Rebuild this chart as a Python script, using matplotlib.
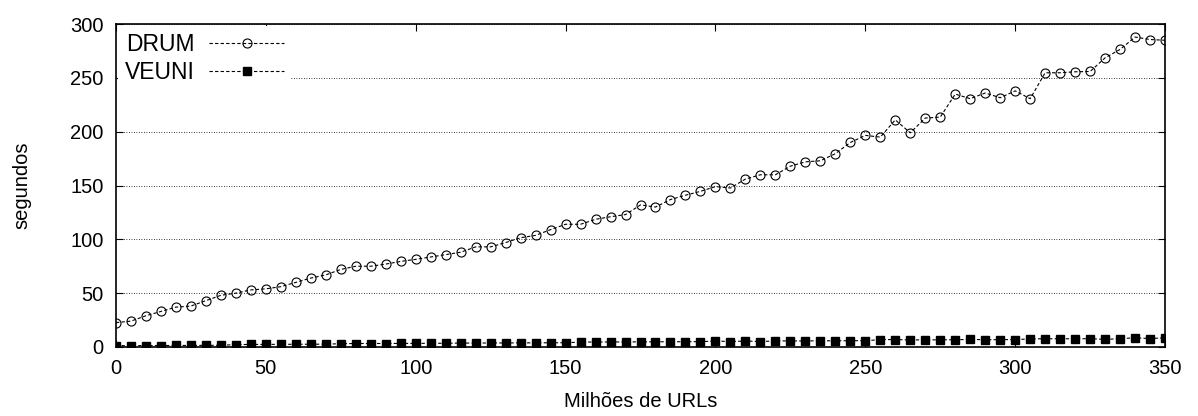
import matplotlib
matplotlib.use("Agg")
import matplotlib.pyplot as plt
import numpy as np

plt.rcParams['font.family'] = ['Liberation Sans', 'DejaVu Sans']

# milhoes de URLs (eixo x)
urls = np.arange(0, 351, 5)

# tempos (segundos)
drum = [22.6, 24, 29, 33, 37, 38, 43, 48, 50, 53,
        54, 56, 60, 64, 67, 72, 75, 75, 77, 79.5,
        81.4, 83.6, 85.8, 88, 93, 93, 97, 101.5, 103.7, 109,
        114, 114, 118.6, 121, 123, 132, 130, 137, 141, 144.6,
        149, 147.7, 156, 160, 160, 168, 172, 173, 179.6, 190,
        196.6, 195, 211, 199, 212.7, 213.6, 235, 230.7, 236, 231.6,
        238, 230.7, 254.8, 254.8, 255.7, 256, 268.7, 276.5, 288, 285.7,
        285]
veuni = [1.2, 1.2, 1.3, 1.3, 1.4, 1.4, 1.5, 1.5, 2.2, 2.3,
         2.4, 2.4, 2.5, 2.5, 2.6, 3.0, 3.2, 3.2, 3.2, 3.3,
         3.3, 3.4, 3.4, 3.6, 3.6, 3.7, 3.7, 3.8, 3.8, 3.9,
         3.9, 4.5, 4.6, 4.6, 4.7, 4.7, 4.8, 4.8, 4.9, 4.9,
         5.5, 5.0, 5.5, 5.0, 5.6, 5.6, 5.6, 5.7, 5.7, 5.8,
         5.8, 6.8, 6.9, 6.5, 6.6, 6.6, 6.7, 7.0, 6.7, 6.8,
         6.8, 7.5, 7.6, 7.6, 7.6, 7.7, 7.0, 7.7, 8.5, 7.8,
         8.5]

xticks = [0, 50, 100, 150, 200, 250, 300, 350]
yticks = [0, 50, 100, 150, 200, 250, 300]

fig = plt.figure(figsize=(11.98, 4.16), dpi=100)
ax = fig.add_axes([0.0968, 0.166, 0.8757, 0.776])

ax.plot(urls, drum, color='black', linestyle=(0, (3, 2)), linewidth=0.8,
        marker='o', markersize=6.5, markerfacecolor='none',
        markeredgecolor='black', markeredgewidth=0.8, label='DRUM')
ax.plot(urls, veuni, color='black', linestyle=(0, (3, 2)), linewidth=0.8,
        marker='s', markersize=5.5, markerfacecolor='black',
        markeredgecolor='black', label='VEUNI')

ax.set_xlim(0, 350)
ax.set_ylim(0, 300)
ax.set_xticks(xticks)
ax.set_yticks(yticks)
ax.tick_params(direction='in', top=True, right=True, length=5, width=0.8,
               labelsize=14.5, pad=9)
ax.yaxis.grid(True, linestyle=(0, (1, 2)), color='black', linewidth=0.6)
ax.set_axisbelow(True)
for s in ax.spines.values():
    s.set_linewidth(1.2)

ax.set_xlabel('Milhões de URLs', fontsize=14.5, labelpad=10)
ax.set_ylabel('segundos', fontsize=14.5, labelpad=28)

leg = ax.legend(loc='upper left', bbox_to_anchor=(0.0, 1.0), markerfirst=False,
                fontsize=16.5, handlelength=3.3, handletextpad=0.6,
                labelspacing=0.2, borderaxespad=0.1, borderpad=0.3,
                frameon=True, fancybox=False)
leg.get_frame().set_facecolor('white')
leg.get_frame().set_edgecolor('none')
leg.get_frame().set_alpha(1)

fig.savefig('out.png', dpi=100)
